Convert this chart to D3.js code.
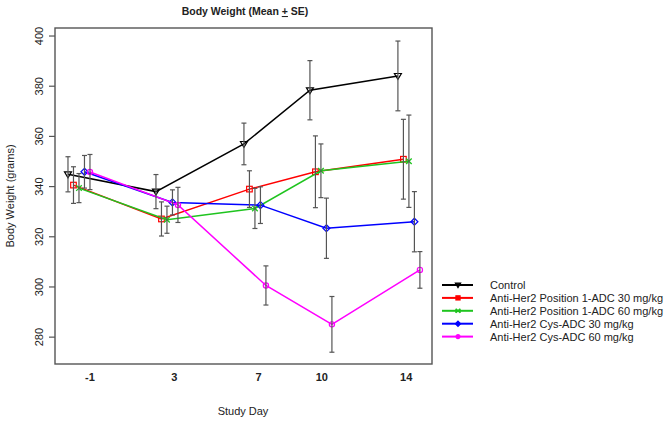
<!DOCTYPE html>
<html>
<head>
<meta charset="utf-8">
<script src="https://d3js.org/d3.v7.min.js"></script>
<style>
  body { margin: 0; background: #fff; }
  text { font-family: "Liberation Sans", Arial, sans-serif; fill: #222; }
</style>
</head>
<body>
<div id="chart"></div>
<script>
// Data
var days = [-1, 3, 7, 10, 14];
var tickDays = [-1, 3, 7, 10, 14];
var yTicks = [280, 300, 320, 340, 360, 380, 400];

var groupNames = [
  "Control",
  "Anti-Her2 Position 1-ADC 30 mg/kg",
  "Anti-Her2 Position 1-ADC 60 mg/kg",
  "Anti-Her2 Cys-ADC 30 mg/kg",
  "Anti-Her2 Cys-ADC 60 mg/kg"
];
var groupColors = ["#000000", "#ff0000", "#1fc41f", "#0000ff", "#ff00ff"];
var groupSymbols = ["tri", "square", "cross", "diamond", "circle"];

var controlMean = [344.7, 337.8, 356.8, 378.2, 383.9];
var controlSE = [7.0, 6.8, 8.3, 11.8, 13.9];
var pos30Mean = [340.4, 326.9, 338.8, 345.7, 350.7];
var pos30SE = [7.3, 6.8, 7.3, 14.3, 15.9];
var pos60Mean = [339.2, 326.6, 331.1, 346.1, 349.9];
var pos60SE = [5.8, 5.4, 8.0, 10.7, 18.4];
var cys30Mean = [345.7, 333.5, 332.4, 323.2, 325.8];
var cys30SE = [6.5, 5.0, 7.3, 12.0, 12.0];
var cys60Mean = [345.6, 332.5, 300.4, 284.9, 306.6];
var cys60SE = [7.0, 7.0, 7.8, 11.1, 7.3];

var means = [controlMean, pos30Mean, pos60Mean, cys30Mean, cys60Mean];
var ses = [controlSE, pos30SE, pos60SE, cys30SE, cys60SE];

// horizontal dodge between groups (days)
var dodge = 0.25;

var svgWidth = 664;
var svgHeight = 423;
var plot = { left: 55, right: 432, top: 28, bottom: 364 };

var svg = d3.select("#chart")
  .append("svg")
  .attr("width", svgWidth)
  .attr("height", svgHeight);

// Scales
var xScale = d3.scaleLinear()
  .domain([-2.09, 15.05])
  .range([plot.left, plot.right]);

// tick labels sit on a slightly different spacing in the original
var xLabelScale = d3.scaleLinear()
  .domain([-2.63, 15.25])
  .range([plot.left, plot.right]);

var yScale = d3.scaleLinear()
  .domain([269.1, 403])
  .range([plot.bottom, plot.top]);

// Title
var title = svg.append("text")
  .attr("x", 245)
  .attr("y", 15)
  .attr("text-anchor", "middle")
  .attr("font-size", 10.5)
  .attr("font-weight", "bold");
title.append("tspan").text("Body Weight (Mean ");
title.append("tspan").attr("text-decoration", "underline").text("+");
title.append("tspan").text(" SE)");

// Y axis (ticks outward, labels rotated like R)
var leftAxis = d3.axisLeft(yScale)
  .tickValues(yTicks)
  .tickSize(6)
  .tickPadding(4);

var yAxisG = svg.append("g")
  .attr("transform", `translate(${plot.left}, 0)`)
  .call(leftAxis);
yAxisG.select(".domain").remove();
yAxisG.selectAll(".tick line").attr("stroke", "#555").attr("stroke-width", 1.2);
yAxisG.selectAll(".tick text")
  .attr("font-size", 11)
  .attr("x", null)
  .attr("dy", null)
  .attr("text-anchor", "middle")
  .attr("transform", "translate(-12, 0) rotate(-90)");

// X axis labels only (plain hyphen, as in the original)
var bottomAxis = d3.axisBottom(xLabelScale)
  .tickValues(tickDays)
  .tickFormat(d => String(d))
  .tickSize(0)
  .tickPadding(9);

var xAxisG = svg.append("g")
  .attr("transform", `translate(0, ${plot.bottom})`)
  .call(bottomAxis);
xAxisG.select(".domain").remove();
xAxisG.selectAll(".tick text")
  .attr("font-size", 11)
  .attr("font-weight", "bold");

// Plot box
svg.append("rect")
  .attr("x", plot.left)
  .attr("y", plot.top)
  .attr("width", plot.right - plot.left)
  .attr("height", plot.bottom - plot.top)
  .attr("fill", "none")
  .attr("stroke", "#555")
  .attr("stroke-width", 1.4);

// Axis titles
svg.append("text")
  .attr("transform", `translate(14, ${(plot.top + plot.bottom) / 2}) rotate(-90)`)
  .attr("text-anchor", "middle")
  .attr("font-size", 11)
  .text("Body Weight (grams)");

svg.append("text")
  .attr("x", 243)
  .attr("y", 415)
  .attr("text-anchor", "middle")
  .attr("font-size", 11)
  .text("Study Day");

// marker drawing helper
function drawSymbol(g, kind, cx, cy, color, s, filled) {
  var fill = filled ? color : "none";
  if (kind == "tri") {
    g.append("path")
      .attr("d", `M${cx - s},${cy - s * 0.7} L${cx + s},${cy - s * 0.7} L${cx},${cy + s} Z`)
      .attr("fill", fill).attr("stroke", color).attr("stroke-width", 1.2);
  } else if (kind == "square") {
    g.append("rect")
      .attr("x", cx - s * 0.8).attr("y", cy - s * 0.8)
      .attr("width", s * 1.6).attr("height", s * 1.6)
      .attr("fill", fill).attr("stroke", color).attr("stroke-width", 1.2);
  } else if (kind == "cross") {
    g.append("path")
      .attr("d", `M${cx - s * 0.8},${cy - s * 0.8} L${cx + s * 0.8},${cy + s * 0.8} M${cx - s * 0.8},${cy + s * 0.8} L${cx + s * 0.8},${cy - s * 0.8}` +
        (filled ? ` M${cx - s * 0.8},${cy - s * 0.8} L${cx - s * 0.8},${cy + s * 0.8} M${cx + s * 0.8},${cy - s * 0.8} L${cx + s * 0.8},${cy + s * 0.8}` : ""))
      .attr("fill", "none").attr("stroke", color).attr("stroke-width", 1.3);
  } else if (kind == "diamond") {
    g.append("path")
      .attr("d", `M${cx},${cy - s} L${cx + s},${cy} L${cx},${cy + s} L${cx - s},${cy} Z`)
      .attr("fill", fill).attr("stroke", color).attr("stroke-width", 1.2);
  } else {
    g.append("circle")
      .attr("cx", cx).attr("cy", cy).attr("r", s * 0.75)
      .attr("fill", fill).attr("stroke", color).attr("stroke-width", 1.2);
  }
}

var line = d3.line()
  .x(d => xScale(d.day))
  .y(d => yScale(d.mean));

// Lines and markers for each group
groupNames.forEach(function(name, i) {
  var pts = days.map(function(day, j) {
    return { day: day + (i - 2) * dodge, mean: means[i][j], se: ses[i][j] };
  });

  var g = svg.append("g").attr("class", "group" + i);

  g.append("path")
    .datum(pts)
    .attr("d", line)
    .attr("fill", "none")
    .attr("stroke", groupColors[i])
    .attr("stroke-width", 1.5);

  pts.forEach(function(p) {
    drawSymbol(g, groupSymbols[i], xScale(p.day), yScale(p.mean), groupColors[i], 3.5, false);
  });
});

// Error bars on top
groupNames.forEach(function(name, i) {
  var pts = days.map(function(day, j) {
    return { day: day + (i - 2) * dodge, mean: means[i][j], se: ses[i][j] };
  });

  var bars = svg.append("g").attr("class", "errbars" + i)
    .selectAll("g")
    .data(pts)
    .enter()
    .append("g")
    .attr("stroke", "#555")
    .attr("stroke-width", 1.2);

  bars.append("line")
    .attr("x1", d => xScale(d.day))
    .attr("x2", d => xScale(d.day))
    .attr("y1", d => yScale(d.mean - d.se))
    .attr("y2", d => yScale(d.mean + d.se));

  bars.append("line")
    .attr("x1", d => xScale(d.day) - 2.5)
    .attr("x2", d => xScale(d.day) + 2.5)
    .attr("y1", d => yScale(d.mean + d.se))
    .attr("y2", d => yScale(d.mean + d.se));

  bars.append("line")
    .attr("x1", d => xScale(d.day) - 2.5)
    .attr("x2", d => xScale(d.day) + 2.5)
    .attr("y1", d => yScale(d.mean - d.se))
    .attr("y2", d => yScale(d.mean - d.se));
});

// Legend
var legend = svg.append("g")
  .attr("transform", "translate(442, 285)");

groupNames.forEach(function(name, i) {
  var row = legend.append("g")
    .attr("transform", `translate(0, ${i * 12.9})`);

  row.append("line")
    .attr("x1", 0)
    .attr("x2", 31)
    .attr("y1", 0)
    .attr("y2", 0)
    .attr("stroke", groupColors[i])
    .attr("stroke-width", 2);

  drawSymbol(row, groupSymbols[i], 16, 0, groupColors[i], 2.6, true);

  row.append("text")
    .attr("x", 48)
    .attr("y", 4)
    .attr("font-size", 11)
    .text(name);
});
</script>
</body>
</html>
